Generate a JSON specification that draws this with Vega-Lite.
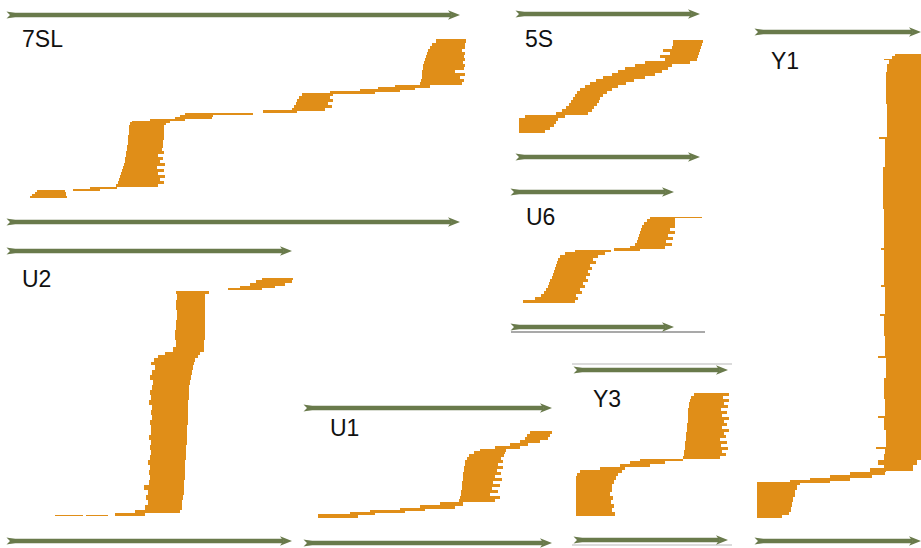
{
  "$schema": "https://vega.github.io/schema/vega-lite/v6.json",
  "width": 921,
  "height": 548,
  "autosize": {"type": "fit", "contains": "padding"},
  "padding": 0,
  "background": "white",
  "config": {"view": {"stroke": null}},
  "datasets": {
    "reads": [
      {"locus":"7SL","from":37,"to":65,"top":190,"bot":192},{"locus":"7SL","from":35,"to":66,"top":192,"bot":194},{"locus":"7SL","from":32,"to":66,"top":194,"bot":196},{"locus":"7SL","from":30,"to":67,"top":196,"bot":198},
      {"locus":"7SL","from":73,"to":100,"top":189,"bot":191},{"locus":"7SL","from":90,"to":117,"top":187,"bot":189},
      {"locus":"7SL","from":116,"to":158,"top":184,"bot":187},{"locus":"7SL","from":118,"to":164,"top":181,"bot":184},{"locus":"7SL","from":119,"to":160,"top":178,"bot":181},{"locus":"7SL","from":120,"to":165,"top":175,"bot":178},{"locus":"7SL","from":121,"to":158,"top":172,"bot":175},{"locus":"7SL","from":122,"to":164,"top":169,"bot":172},{"locus":"7SL","from":123,"to":157,"top":166,"bot":169},{"locus":"7SL","from":124,"to":165,"top":163,"bot":166},{"locus":"7SL","from":125,"to":160,"top":160,"bot":163},{"locus":"7SL","from":125,"to":163,"top":157,"bot":160},{"locus":"7SL","from":126,"to":158,"top":154,"bot":157},{"locus":"7SL","from":126,"to":164,"top":151,"bot":154},{"locus":"7SL","from":127,"to":162,"top":148,"bot":151},{"locus":"7SL","from":127,"to":163,"top":145,"bot":148},{"locus":"7SL","from":128,"to":163,"top":140,"bot":145},{"locus":"7SL","from":128,"to":164,"top":135,"bot":140},{"locus":"7SL","from":129,"to":164,"top":130,"bot":135},{"locus":"7SL","from":129,"to":164,"top":125,"bot":130},{"locus":"7SL","from":130,"to":166,"top":122,"bot":125},
      {"locus":"7SL","from":132,"to":170,"top":121,"bot":123},{"locus":"7SL","from":150,"to":185,"top":119,"bot":121},{"locus":"7SL","from":175,"to":212,"top":117,"bot":119},{"locus":"7SL","from":180,"to":213,"top":115,"bot":117},{"locus":"7SL","from":185,"to":253,"top":113,"bot":115},
      {"locus":"7SL","from":263,"to":297,"top":110,"bot":113},
      {"locus":"7SL","from":292,"to":325,"top":108,"bot":111},{"locus":"7SL","from":294,"to":332,"top":105,"bot":108},{"locus":"7SL","from":296,"to":328,"top":102,"bot":105},{"locus":"7SL","from":297,"to":333,"top":99,"bot":102},{"locus":"7SL","from":299,"to":330,"top":96,"bot":99},{"locus":"7SL","from":302,"to":333,"top":93,"bot":96},
      {"locus":"7SL","from":330,"to":375,"top":91,"bot":94},{"locus":"7SL","from":360,"to":400,"top":89,"bot":92},{"locus":"7SL","from":378,"to":415,"top":87,"bot":90},{"locus":"7SL","from":395,"to":430,"top":85,"bot":88},
      {"locus":"7SL","from":420,"to":462,"top":82,"bot":85},{"locus":"7SL","from":421,"to":464,"top":79,"bot":82},{"locus":"7SL","from":422,"to":460,"top":76,"bot":79},{"locus":"7SL","from":422,"to":465,"top":73,"bot":76},{"locus":"7SL","from":422,"to":455,"top":70,"bot":73},{"locus":"7SL","from":423,"to":464,"top":67,"bot":70},{"locus":"7SL","from":423,"to":465,"top":64,"bot":67},{"locus":"7SL","from":424,"to":463,"top":61,"bot":64},{"locus":"7SL","from":425,"to":465,"top":58,"bot":61},{"locus":"7SL","from":426,"to":464,"top":55,"bot":58},{"locus":"7SL","from":427,"to":465,"top":52,"bot":55},{"locus":"7SL","from":428,"to":462,"top":49,"bot":52},{"locus":"7SL","from":430,"to":465,"top":46,"bot":49},{"locus":"7SL","from":432,"to":465,"top":43,"bot":46},{"locus":"7SL","from":436,"to":466,"top":39,"bot":43},

      {"locus":"5S","from":519,"to":545,"top":130,"bot":133},{"locus":"5S","from":519,"to":550,"top":127,"bot":130},{"locus":"5S","from":519,"to":554,"top":124,"bot":127},{"locus":"5S","from":519,"to":556,"top":121,"bot":124},{"locus":"5S","from":519,"to":558,"top":118,"bot":121},{"locus":"5S","from":525,"to":565,"top":115,"bot":118},
      {"locus":"5S","from":556,"to":588,"top":112,"bot":115},{"locus":"5S","from":562,"to":592,"top":109,"bot":112},{"locus":"5S","from":566,"to":594,"top":106,"bot":109},{"locus":"5S","from":569,"to":597,"top":103,"bot":106},{"locus":"5S","from":571,"to":599,"top":100,"bot":103},{"locus":"5S","from":573,"to":600,"top":97,"bot":100},{"locus":"5S","from":575,"to":603,"top":94,"bot":97},{"locus":"5S","from":577,"to":607,"top":91,"bot":94},{"locus":"5S","from":580,"to":612,"top":88,"bot":91},{"locus":"5S","from":585,"to":618,"top":85,"bot":88},{"locus":"5S","from":590,"to":626,"top":82,"bot":85},{"locus":"5S","from":596,"to":634,"top":79,"bot":82},{"locus":"5S","from":603,"to":645,"top":76,"bot":79},{"locus":"5S","from":612,"to":655,"top":73,"bot":76},{"locus":"5S","from":618,"to":662,"top":70,"bot":73},{"locus":"5S","from":625,"to":668,"top":67,"bot":70},{"locus":"5S","from":635,"to":672,"top":64,"bot":67},{"locus":"5S","from":645,"to":690,"top":61,"bot":64},{"locus":"5S","from":665,"to":697,"top":58,"bot":61},{"locus":"5S","from":660,"to":698,"top":55,"bot":58},{"locus":"5S","from":670,"to":699,"top":52,"bot":55},{"locus":"5S","from":663,"to":700,"top":49,"bot":52},{"locus":"5S","from":672,"to":701,"top":46,"bot":49},{"locus":"5S","from":673,"to":702,"top":43,"bot":46},{"locus":"5S","from":673,"to":703,"top":40,"bot":43},

      {"locus":"U6","from":523,"to":575,"top":300,"bot":303},{"locus":"U6","from":535,"to":578,"top":297,"bot":300},{"locus":"U6","from":541,"to":576,"top":294,"bot":297},{"locus":"U6","from":544,"to":582,"top":291,"bot":294},{"locus":"U6","from":546,"to":580,"top":288,"bot":291},{"locus":"U6","from":548,"to":585,"top":285,"bot":288},{"locus":"U6","from":549,"to":583,"top":282,"bot":285},{"locus":"U6","from":550,"to":588,"top":279,"bot":282},{"locus":"U6","from":552,"to":586,"top":276,"bot":279},{"locus":"U6","from":553,"to":590,"top":273,"bot":276},{"locus":"U6","from":554,"to":588,"top":270,"bot":273},{"locus":"U6","from":555,"to":592,"top":267,"bot":270},{"locus":"U6","from":556,"to":590,"top":264,"bot":267},{"locus":"U6","from":557,"to":596,"top":261,"bot":264},{"locus":"U6","from":558,"to":593,"top":258,"bot":261},{"locus":"U6","from":560,"to":598,"top":255,"bot":258},{"locus":"U6","from":565,"to":605,"top":252,"bot":255},{"locus":"U6","from":575,"to":611,"top":250,"bot":252},
      {"locus":"U6","from":614,"to":640,"top":248,"bot":251},{"locus":"U6","from":630,"to":665,"top":246,"bot":249},{"locus":"U6","from":635,"to":672,"top":243,"bot":246},{"locus":"U6","from":637,"to":666,"top":240,"bot":243},{"locus":"U6","from":638,"to":673,"top":237,"bot":240},{"locus":"U6","from":639,"to":668,"top":234,"bot":237},{"locus":"U6","from":640,"to":675,"top":231,"bot":234},{"locus":"U6","from":641,"to":670,"top":228,"bot":231},{"locus":"U6","from":642,"to":675,"top":225,"bot":228},{"locus":"U6","from":644,"to":675,"top":222,"bot":225},{"locus":"U6","from":647,"to":675,"top":219,"bot":222},{"locus":"U6","from":650,"to":675,"top":217,"bot":219},{"locus":"U6","from":675,"to":702,"top":217,"bot":218},

      {"locus":"U2","from":55,"to":83,"top":515,"bot":516},{"locus":"U2","from":86,"to":108,"top":515,"bot":516},{"locus":"U2","from":115,"to":145,"top":513,"bot":516},{"locus":"U2","from":135,"to":180,"top":510,"bot":513},{"locus":"U2","from":145,"to":182,"top":505,"bot":510},{"locus":"U2","from":148,"to":182,"top":500,"bot":505},{"locus":"U2","from":146,"to":183,"top":495,"bot":500},{"locus":"U2","from":148,"to":184,"top":490,"bot":495},{"locus":"U2","from":144,"to":184,"top":485,"bot":490},{"locus":"U2","from":149,"to":184,"top":480,"bot":485},{"locus":"U2","from":150,"to":185,"top":475,"bot":480},{"locus":"U2","from":149,"to":185,"top":470,"bot":475},{"locus":"U2","from":150,"to":185,"top":465,"bot":470},{"locus":"U2","from":148,"to":185,"top":460,"bot":465},{"locus":"U2","from":150,"to":186,"top":455,"bot":460},{"locus":"U2","from":151,"to":186,"top":450,"bot":455},{"locus":"U2","from":150,"to":186,"top":445,"bot":450},{"locus":"U2","from":151,"to":187,"top":440,"bot":445},{"locus":"U2","from":149,"to":187,"top":435,"bot":440},{"locus":"U2","from":151,"to":187,"top":430,"bot":435},{"locus":"U2","from":151,"to":187,"top":425,"bot":430},{"locus":"U2","from":150,"to":188,"top":420,"bot":425},{"locus":"U2","from":152,"to":188,"top":415,"bot":420},{"locus":"U2","from":151,"to":188,"top":410,"bot":415},{"locus":"U2","from":152,"to":188,"top":405,"bot":410},{"locus":"U2","from":149,"to":188,"top":400,"bot":405},{"locus":"U2","from":151,"to":189,"top":395,"bot":400},{"locus":"U2","from":150,"to":189,"top":390,"bot":395},{"locus":"U2","from":152,"to":189,"top":385,"bot":390},{"locus":"U2","from":153,"to":190,"top":380,"bot":385},{"locus":"U2","from":150,"to":191,"top":375,"bot":380},{"locus":"U2","from":152,"to":192,"top":370,"bot":375},{"locus":"U2","from":155,"to":193,"top":365,"bot":370},{"locus":"U2","from":151,"to":194,"top":362,"bot":365},{"locus":"U2","from":154,"to":195,"top":358,"bot":362},{"locus":"U2","from":158,"to":198,"top":355,"bot":358},{"locus":"U2","from":165,"to":200,"top":352,"bot":355},
      {"locus":"U2","from":173,"to":204,"top":347,"bot":352},{"locus":"U2","from":176,"to":204,"top":340,"bot":347},{"locus":"U2","from":175,"to":205,"top":330,"bot":340},{"locus":"U2","from":176,"to":205,"top":320,"bot":330},{"locus":"U2","from":177,"to":205,"top":310,"bot":320},{"locus":"U2","from":176,"to":205,"top":300,"bot":310},{"locus":"U2","from":177,"to":205,"top":294,"bot":300},{"locus":"U2","from":176,"to":209,"top":291,"bot":294},
      {"locus":"U2","from":228,"to":262,"top":288,"bot":290},{"locus":"U2","from":240,"to":275,"top":286,"bot":288},{"locus":"U2","from":250,"to":285,"top":283,"bot":286},{"locus":"U2","from":256,"to":292,"top":280,"bot":283},{"locus":"U2","from":262,"to":293,"top":278,"bot":280},

      {"locus":"U1","from":318,"to":358,"top":514,"bot":518},{"locus":"U1","from":350,"to":375,"top":512,"bot":515},{"locus":"U1","from":370,"to":405,"top":510,"bot":513},{"locus":"U1","from":400,"to":425,"top":508,"bot":511},{"locus":"U1","from":420,"to":455,"top":505,"bot":509},{"locus":"U1","from":440,"to":463,"top":502,"bot":506},
      {"locus":"U1","from":459,"to":495,"top":499,"bot":502},{"locus":"U1","from":460,"to":500,"top":496,"bot":499},{"locus":"U1","from":461,"to":490,"top":493,"bot":496},{"locus":"U1","from":461,"to":498,"top":490,"bot":493},{"locus":"U1","from":462,"to":492,"top":487,"bot":490},{"locus":"U1","from":462,"to":500,"top":484,"bot":487},{"locus":"U1","from":462,"to":493,"top":481,"bot":484},{"locus":"U1","from":463,"to":502,"top":478,"bot":481},{"locus":"U1","from":463,"to":495,"top":475,"bot":478},{"locus":"U1","from":463,"to":501,"top":472,"bot":475},{"locus":"U1","from":464,"to":497,"top":469,"bot":472},{"locus":"U1","from":464,"to":503,"top":466,"bot":469},{"locus":"U1","from":465,"to":498,"top":463,"bot":466},{"locus":"U1","from":465,"to":503,"top":460,"bot":463},{"locus":"U1","from":467,"to":501,"top":457,"bot":460},{"locus":"U1","from":469,"to":504,"top":454,"bot":457},{"locus":"U1","from":474,"to":505,"top":451,"bot":454},
      {"locus":"U1","from":480,"to":506,"top":449,"bot":452},{"locus":"U1","from":495,"to":520,"top":446,"bot":449},{"locus":"U1","from":510,"to":528,"top":443,"bot":446},{"locus":"U1","from":520,"to":540,"top":440,"bot":443},{"locus":"U1","from":525,"to":548,"top":437,"bot":440},{"locus":"U1","from":527,"to":550,"top":434,"bot":437},{"locus":"U1","from":530,"to":552,"top":431,"bot":434},

      {"locus":"Y3","from":576,"to":615,"top":512,"bot":516},{"locus":"Y3","from":576,"to":612,"top":508,"bot":512},{"locus":"Y3","from":576,"to":614,"top":504,"bot":508},{"locus":"Y3","from":576,"to":611,"top":500,"bot":504},{"locus":"Y3","from":576,"to":613,"top":496,"bot":500},{"locus":"Y3","from":576,"to":610,"top":492,"bot":496},{"locus":"Y3","from":576,"to":612,"top":488,"bot":492},{"locus":"Y3","from":576,"to":612,"top":484,"bot":488},{"locus":"Y3","from":576,"to":614,"top":480,"bot":484},{"locus":"Y3","from":576,"to":616,"top":476,"bot":480},{"locus":"Y3","from":577,"to":618,"top":473,"bot":476},{"locus":"Y3","from":580,"to":622,"top":470,"bot":473},
      {"locus":"Y3","from":600,"to":625,"top":467,"bot":470},{"locus":"Y3","from":620,"to":650,"top":464,"bot":467},{"locus":"Y3","from":630,"to":665,"top":461,"bot":464},{"locus":"Y3","from":640,"to":683,"top":459,"bot":461},
      {"locus":"Y3","from":683,"to":720,"top":456,"bot":459},{"locus":"Y3","from":684,"to":726,"top":453,"bot":456},{"locus":"Y3","from":684,"to":722,"top":450,"bot":453},{"locus":"Y3","from":685,"to":728,"top":447,"bot":450},{"locus":"Y3","from":685,"to":721,"top":444,"bot":447},{"locus":"Y3","from":685,"to":727,"top":441,"bot":444},{"locus":"Y3","from":686,"to":720,"top":438,"bot":441},{"locus":"Y3","from":686,"to":726,"top":435,"bot":438},{"locus":"Y3","from":686,"to":724,"top":432,"bot":435},{"locus":"Y3","from":687,"to":729,"top":429,"bot":432},{"locus":"Y3","from":687,"to":722,"top":426,"bot":429},{"locus":"Y3","from":687,"to":727,"top":423,"bot":426},{"locus":"Y3","from":688,"to":724,"top":420,"bot":423},{"locus":"Y3","from":688,"to":729,"top":417,"bot":420},{"locus":"Y3","from":688,"to":722,"top":414,"bot":417},{"locus":"Y3","from":688,"to":727,"top":411,"bot":414},{"locus":"Y3","from":688,"to":721,"top":408,"bot":411},{"locus":"Y3","from":689,"to":728,"top":405,"bot":408},{"locus":"Y3","from":689,"to":724,"top":402,"bot":405},{"locus":"Y3","from":690,"to":729,"top":399,"bot":402},{"locus":"Y3","from":691,"to":723,"top":396,"bot":399},{"locus":"Y3","from":694,"to":729,"top":393,"bot":396},

      {"locus":"Y1","from":757,"to":782,"top":515,"bot":518},{"locus":"Y1","from":757,"to":789,"top":512,"bot":515},{"locus":"Y1","from":757,"to":791,"top":507,"bot":512},{"locus":"Y1","from":757,"to":792,"top":502,"bot":507},{"locus":"Y1","from":757,"to":793,"top":497,"bot":502},{"locus":"Y1","from":757,"to":795,"top":490,"bot":497},{"locus":"Y1","from":757,"to":797,"top":485,"bot":490},{"locus":"Y1","from":757,"to":800,"top":482,"bot":485},
      {"locus":"Y1","from":790,"to":830,"top":480,"bot":483},{"locus":"Y1","from":810,"to":850,"top":478,"bot":481},{"locus":"Y1","from":830,"to":872,"top":475,"bot":478},{"locus":"Y1","from":850,"to":885,"top":472,"bot":475},{"locus":"Y1","from":870,"to":886,"top":468,"bot":472},
      {"locus":"Y1","from":884,"to":913,"top":465,"bot":471},{"locus":"Y1","from":878,"to":917,"top":460,"bot":465},{"locus":"Y1","from":884,"to":930,"top":454,"bot":460},{"locus":"Y1","from":885,"to":930,"top":449,"bot":454},{"locus":"Y1","from":876,"to":930,"top":447,"bot":449},{"locus":"Y1","from":886,"to":930,"top":430,"bot":447},{"locus":"Y1","from":884,"to":930,"top":418,"bot":430},{"locus":"Y1","from":878,"to":930,"top":416,"bot":418},{"locus":"Y1","from":885,"to":930,"top":399,"bot":416},{"locus":"Y1","from":884,"to":930,"top":378,"bot":399},{"locus":"Y1","from":886,"to":930,"top":358,"bot":378},{"locus":"Y1","from":878,"to":930,"top":356,"bot":358},{"locus":"Y1","from":885,"to":930,"top":336,"bot":356},{"locus":"Y1","from":884,"to":930,"top":316,"bot":336},{"locus":"Y1","from":880,"to":930,"top":314,"bot":316},{"locus":"Y1","from":885,"to":930,"top":287,"bot":314},{"locus":"Y1","from":881,"to":930,"top":285,"bot":287},{"locus":"Y1","from":884,"to":930,"top":250,"bot":285},{"locus":"Y1","from":881,"to":930,"top":248,"bot":250},{"locus":"Y1","from":884,"to":930,"top":209,"bot":248},{"locus":"Y1","from":883,"to":930,"top":167,"bot":209},{"locus":"Y1","from":885,"to":930,"top":139,"bot":167},{"locus":"Y1","from":879,"to":930,"top":137,"bot":139},{"locus":"Y1","from":887,"to":930,"top":104,"bot":137},{"locus":"Y1","from":886,"to":930,"top":72,"bot":104},{"locus":"Y1","from":887,"to":930,"top":64,"bot":72},{"locus":"Y1","from":889,"to":930,"top":60,"bot":64},{"locus":"Y1","from":884,"to":930,"top":59,"bot":60},{"locus":"Y1","from":892,"to":930,"top":56,"bot":59},{"locus":"Y1","from":895,"to":930,"top":54,"bot":56}
    ],
    "arrows": [
      {"locus":"7SL","from":10,"to":460,"y":15},{"locus":"7SL","from":10,"to":460,"y":222},
      {"locus":"5S","from":519,"to":700,"y":14},{"locus":"5S","from":519,"to":700,"y":157},
      {"locus":"Y1","from":758,"to":921,"y":32},{"locus":"Y1","from":758,"to":921,"y":541},
      {"locus":"U6","from":514,"to":674,"y":192},{"locus":"U6","from":514,"to":674,"y":327},
      {"locus":"U2","from":10,"to":292,"y":251},{"locus":"U2","from":10,"to":292,"y":541},
      {"locus":"U1","from":307,"to":552,"y":408},{"locus":"U1","from":307,"to":552,"y":543},
      {"locus":"Y3","from":577,"to":728,"y":370},{"locus":"Y3","from":577,"to":728,"y":540}
    ],
    "baselines": [
      {"locus":"U6","from":511,"to":705,"y":332,"tone":"dark"},
      {"locus":"Y3","from":572,"to":732,"y":364,"tone":"light"},
      {"locus":"Y3","from":572,"to":732,"y":545,"tone":"light"}
    ],
    "labels": [
      {"locus":"7SL","x":22,"y":40},{"locus":"5S","x":525,"y":40},{"locus":"Y1","x":771,"y":62},
      {"locus":"U6","x":526,"y":218},{"locus":"U2","x":22,"y":280},{"locus":"U1","x":330,"y":429},
      {"locus":"Y3","x":593,"y":400}
    ]
  },
  "layer": [
    {
      "data": {"name": "baselines"},
      "mark": {"type": "rule", "strokeWidth": 1.2},
      "encoding": {
        "x": {"field": "from", "type": "quantitative", "scale": {"domain": [0, 921], "nice": false, "zero": false}, "axis": null},
        "x2": {"field": "to"},
        "y": {"field": "y", "type": "quantitative", "scale": {"domain": [0, 548], "nice": false, "zero": false, "reverse": true}, "axis": null},
        "color": {"field": "tone", "type": "nominal", "scale": {"domain": ["dark", "light"], "range": ["#555555", "#b8b8b8"]}, "legend": null}
      }
    },
    {
      "data": {"name": "reads"},
      "mark": {"type": "rect", "color": "#e08e18", "clip": true},
      "encoding": {
        "x": {"field": "from", "type": "quantitative"},
        "x2": {"field": "to"},
        "y": {"field": "top", "type": "quantitative"},
        "y2": {"field": "bot"}
      }
    },
    {
      "data": {"name": "arrows"},
      "mark": {"type": "rule", "color": "#697a4b", "strokeWidth": 4.5, "x2Offset": -9, "strokeCap": "butt"},
      "encoding": {
        "x": {"field": "from", "type": "quantitative"},
        "x2": {"field": "to"},
        "y": {"field": "y", "type": "quantitative"}
      }
    },
    {
      "data": {"name": "arrows"},
      "mark": {"type": "point", "filled": true, "color": "#697a4b", "opacity": 1, "size": 144, "shape": "M0,0 L-2,-0.78 L-1.45,0 L-2,0.78 Z"},
      "encoding": {
        "x": {"field": "to", "type": "quantitative"},
        "y": {"field": "y", "type": "quantitative"}
      }
    },
    {
      "data": {"name": "arrows"},
      "mark": {"type": "point", "filled": true, "color": "#697a4b", "opacity": 1, "size": 49, "shape": "M-1,-1 L1.5,-0.6 L1.5,0.6 L-1,1 L0,0 Z"},
      "encoding": {
        "x": {"field": "from", "type": "quantitative"},
        "y": {"field": "y", "type": "quantitative"}
      }
    },
    {
      "data": {"name": "labels"},
      "mark": {"type": "text", "font": "Liberation Sans", "fontSize": 23, "color": "#111111", "align": "left", "baseline": "middle"},
      "encoding": {
        "x": {"field": "x", "type": "quantitative"},
        "y": {"field": "y", "type": "quantitative"},
        "text": {"field": "locus"}
      }
    }
  ]
}
